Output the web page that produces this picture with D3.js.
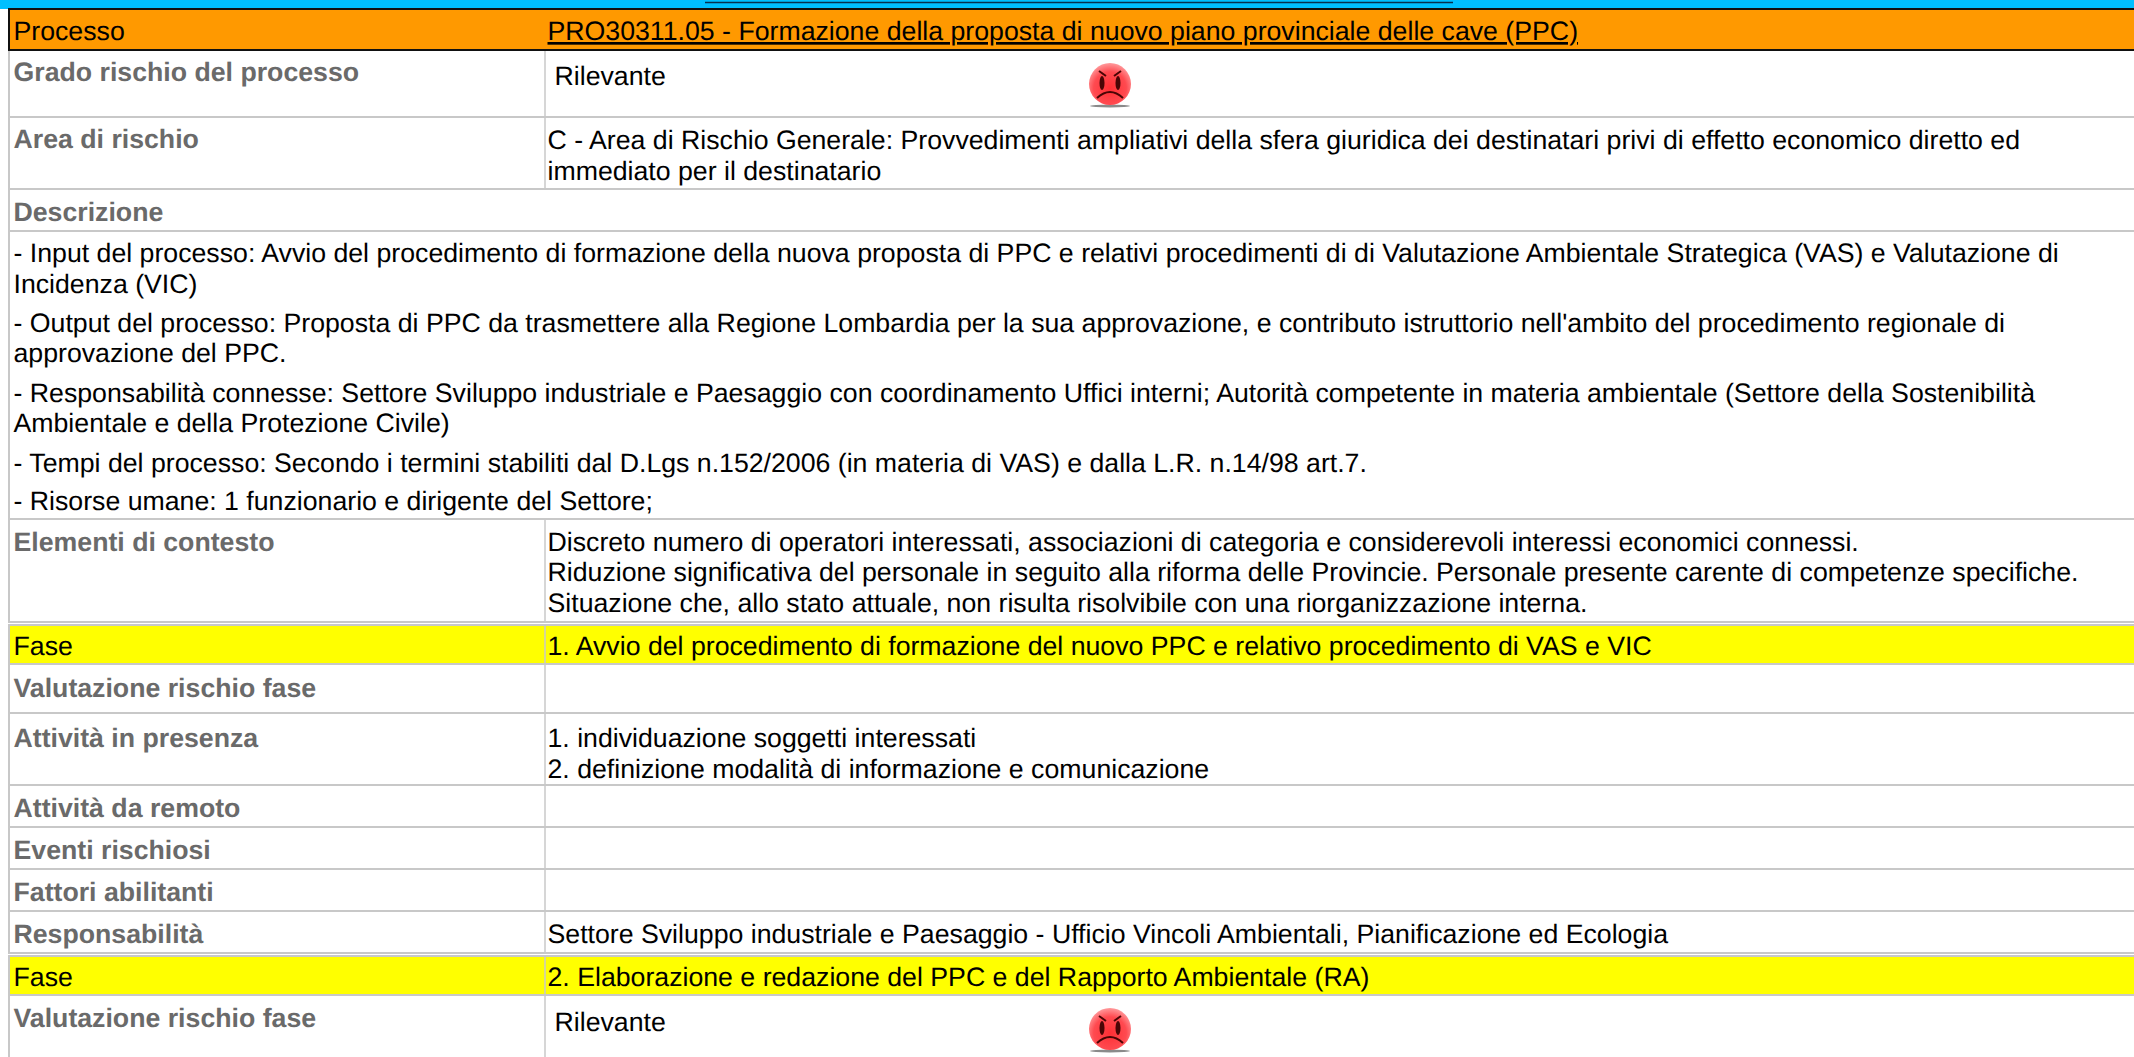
<!DOCTYPE html>
<html>
<head>
<meta charset="utf-8">
<style>
html, body { margin: 0; padding: 0; background: #fff; overflow: hidden; }
svg { display: block; font-family: "Liberation Sans", Arial, sans-serif; }
text { font-size: 26.7px; fill: #000; text-rendering: geometricPrecision; }
text.head { font-weight: bold; fill: #6a6a6a; }
</style>
<script src="https://d3js.org/d3.v7.min.js"></script>
</head>
<body>
<svg id="sheet" width="2134" height="1057"></svg>
<script>
// rows of the sheet, edges and baselines
var rowNames = ["processo", "grado", "area", "descr", "body", "contesto", "fase1", "valuta1", "presenza", "remoto", "eventi", "fattori", "resp", "fase2", "valuta2"];
var rowTops = [9, 50, 117, 189, 231, 519, 625, 664, 713, 785, 827, 869, 911, 956, 995];
var rowBottoms = [50, 117, 189, 231, 519, 622, 664, 713, 785, 827, 869, 911, 953, 995, 1062];
var rowKinds = ["orange", "two", "two", "wide", "wide", "two", "yellow", "two", "two", "two", "two", "two", "two", "yellow", "two"];

var leftLabels = ["Processo", "Grado rischio del processo", "Area di rischio", "Descrizione", "", "Elementi di contesto", "Fase", "Valutazione rischio fase", "Attività in presenza", "Attività da remoto", "Eventi rischiosi", "Fattori abilitanti", "Responsabilità", "Fase", "Valutazione rischio fase"];
var leftBase = [40, 81, 148, 221, 0, 551, 655, 697, 747, 817, 859, 901, 943, 986, 1027];

var rightLines = [
  ["PRO30311.05 - Formazione della proposta di nuovo piano provinciale delle cave (PPC)"],
  ["Rilevante"],
  ["C - Area di Rischio Generale: Provvedimenti ampliativi della sfera giuridica dei destinatari privi di effetto economico diretto ed", "immediato per il destinatario"],
  [], [],
  ["Discreto numero di operatori interessati, associazioni di categoria e considerevoli interessi economici connessi.", "Riduzione significativa del personale in seguito alla riforma delle Provincie. Personale presente carente di competenze specifiche.", "Situazione che, allo stato attuale, non risulta risolvibile con una riorganizzazione interna."],
  ["1. Avvio del procedimento di formazione del nuovo PPC e relativo procedimento di VAS e VIC"],
  [],
  ["1. individuazione soggetti interessati", "2. definizione modalità di informazione e comunicazione"],
  [], [], [],
  ["Settore Sviluppo industriale e Paesaggio - Ufficio Vincoli Ambientali, Pianificazione ed Ecologia"],
  ["2. Elaborazione e redazione del PPC e del Rapporto Ambientale (RA)"],
  ["Rilevante"]
];
var rightBase = [
  [40], [85], [149, 180], [], [], [551, 581, 612], [655], [], [747, 778], [], [], [], [943], [986], [1031]
];

var descrLines = [
  "- Input del processo: Avvio del procedimento di formazione della nuova proposta di PPC e relativi procedimenti di di Valutazione Ambientale Strategica (VAS) e Valutazione di",
  "Incidenza (VIC)",
  "- Output del processo: Proposta di PPC da trasmettere alla Regione Lombardia per la sua approvazione, e contributo istruttorio nell'ambito del procedimento regionale di",
  "approvazione del PPC.",
  "- Responsabilità connesse: Settore Sviluppo industriale e Paesaggio con coordinamento Uffici interni; Autorità competente in materia ambientale (Settore della Sostenibilità",
  "Ambientale e della Protezione Civile)",
  "- Tempi del processo: Secondo i termini stabiliti dal D.Lgs n.152/2006 (in materia di VAS) e dalla L.R. n.14/98 art.7.",
  "- Risorse umane: 1 funzionario e dirigente del Settore;"
];
var descrBase = [262, 293, 332, 362, 402, 432, 472, 510];
var riskRows = ["grado", "valuta2"];

var svg = d3.select("#sheet");
var colX = 545, leftX = 13.5, rightX = 547.5;

svg.append("rect").attr("width", 2134).attr("height", 9).attr("fill", "#00bfff");

var rows = rowNames.map(function(name, i) {
  return { name: name, top: rowTops[i], bottom: rowBottoms[i], kind: rowKinds[i], left: leftLabels[i], leftY: leftBase[i], right: rightLines[i], rightY: rightBase[i] };
});

var g = svg.selectAll("g.row").data(rows).enter().append("g").attr("class", "row");

g.append("rect")
  .attr("x", 9).attr("y", function(d) { return d.top; })
  .attr("width", 2140).attr("height", function(d) { return d.bottom - d.top; })
  .attr("fill", function(d) { return d.kind == "orange" ? "#ff9900" : d.kind == "yellow" ? "#ffff00" : "#fff"; })
  .attr("stroke", "#c8c8c8").attr("stroke-width", 2);

g.filter(function(d) { return d.kind == "two" || d.kind == "yellow"; }).append("line")
  .attr("x1", colX).attr("x2", colX)
  .attr("y1", function(d) { return d.top; }).attr("y2", function(d) { return d.bottom; })
  .attr("stroke", "#c8c8c8").attr("stroke-width", 1.5);

g.filter(function(d) { return d.left; }).append("text")
  .attr("class", function(d) { return d.kind == "two" || d.kind == "wide" ? "head" : null; })
  .attr("x", leftX)
  .attr("y", function(d) { return d.leftY; })
  .text(function(d) { return d.left; });

g.each(function(d) {
  d3.select(this).selectAll("text.val").data(d.right).enter().append("text")
    .attr("class", "val")
    .attr("x", rightX + (d.right[0] == "Rilevante" ? 7 : 0))
    .attr("y", function(t, i) { return d.rightY[i]; })
    .style("text-decoration", d.kind == "orange" ? "underline" : null)
    .text(function(t) { return t; });
});

// description text runs over the full width
svg.selectAll("text.descr").data(descrLines).enter().append("text")
  .attr("class", "descr")
  .attr("x", leftX)
  .attr("y", function(t, i) { return descrBase[i]; })
  .text(function(t) { return t; });

// black rules round the orange band
svg.append("line").attr("x1", 8).attr("x2", 2134).attr("y1", 9).attr("y2", 9).attr("stroke", "#111").attr("stroke-width", 2);
svg.append("line").attr("x1", 8).attr("x2", 2134).attr("y1", 50).attr("y2", 50).attr("stroke", "#111").attr("stroke-width", 2);
svg.append("line").attr("x1", 9).attr("x2", 9).attr("y1", 8).attr("y2", 51).attr("stroke", "#111").attr("stroke-width", 2);
// underline of the heading cut off at the top edge
svg.append("line").attr("x1", 705).attr("x2", 1453).attr("y1", 2.5).attr("y2", 2.5).attr("stroke", "#06304f").attr("stroke-width", 1.5);

// angry faces
var defs = svg.append("defs");
var grad = defs.append("radialGradient").attr("id", "face").attr("cx", "50%").attr("cy", "60%").attr("r", "60%");
grad.append("stop").attr("offset", "0%").attr("stop-color", "#ff2f35");
grad.append("stop").attr("offset", "65%").attr("stop-color", "#ff4a50");
grad.append("stop").attr("offset", "100%").attr("stop-color", "#ff9a9c");

var faces = svg.selectAll("g.face")
  .data(rows.filter(function(d) { return riskRows.indexOf(d.name) >= 0; }))
  .enter().append("g").attr("class", "face")
  .attr("transform", function(d) { return "translate(1110," + (d.top + 34) + ")"; });
faces.append("ellipse").attr("cx", 0).attr("cy", 22).attr("rx", 20).attr("ry", 1.5).attr("fill", "#8a8a8a");
faces.append("circle").attr("r", 21).attr("fill", "url(#face)");
faces.append("ellipse").attr("cx", -8).attr("cy", -1).attr("rx", 2.5).attr("ry", 7).attr("fill", "#4a0606");
faces.append("ellipse").attr("cx", 8).attr("cy", -1).attr("rx", 2.5).attr("ry", 7).attr("fill", "#4a0606");
faces.append("path").attr("d", "M-11,-13L-4,-8M11,-13L4,-8M-13,14Q0,2 13,14").attr("fill", "none").attr("stroke", "#4a0505").attr("stroke-width", 2);
</script>
</body>
</html>
